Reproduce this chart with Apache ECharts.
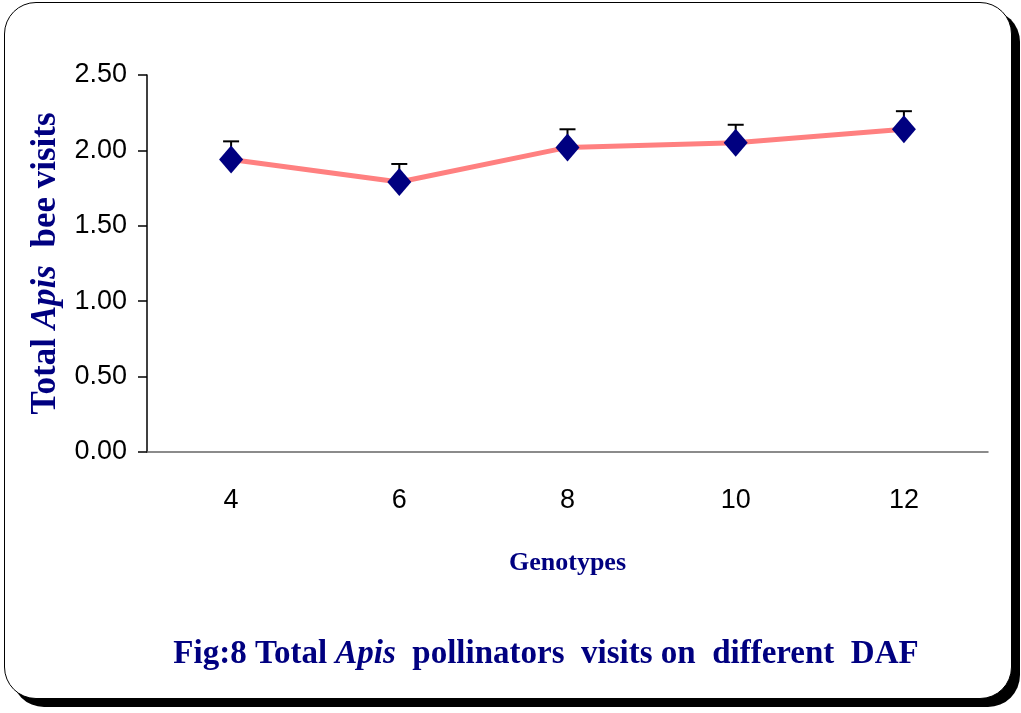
<!DOCTYPE html>
<html>
<head>
<meta charset="utf-8">
<script src="https://cdn.jsdelivr.net/npm/echarts@6/dist/echarts.min.js"></script>
<style>
  html, body { margin: 0; padding: 0; background: #fff; }
  .frame {
    position: absolute; left: 4px; top: 2px;
    width: 1006px; height: 695px;
    border: 1.5px solid #000; border-radius: 32px;
    box-shadow: 8px 8px 0 #000; background: #fff;
  }
  #chart { position: absolute; left: 0; top: 0; width: 1021px; height: 713px; }
</style>
</head>
<body>
<div class="frame"></div>
<div id="chart"></div>
<script>
// DAF (days after flowering) on the x axis
var categories = ["4", "6", "8", "10", "12"];
var visits = [1.94, 1.79, 2.02, 2.05, 2.14];
var errors = [0.12, 0.12, 0.12, 0.12, 0.12];

var chart = echarts.init(document.getElementById("chart"));

// only the upper half of the error bar shows, the marker hides the rest
function renderErrorBar(params, api) {
  var i = api.value(0);
  var top = api.coord([i, api.value(2)]);
  var mid = api.coord([i, api.value(1)]);
  var half = 8;
  var st = { stroke: "#000", lineWidth: 2 };
  return {
    type: "group",
    children: [
      { type: "line", shape: { x1: mid[0], y1: mid[1], x2: top[0], y2: top[1] }, style: st },
      { type: "line", shape: { x1: top[0] - half, y1: top[1], x2: top[0] + half, y2: top[1] }, style: st }
    ]
  };
}

var errData = visits.map(function (v, i) {
  return [i, v, v + errors[i]];
});

chart.setOption({
  animation: false,
  title: {
    left: 541,
    top: 633,
    textAlign: "center",
    text: "{n|Fig:8 Total }{i|Apis}{n|  pollinators  visits on  different  DAF}",
    textStyle: {
      rich: {
        n: { fontFamily: "Liberation Serif", fontWeight: "bold", fontSize: 33, color: "#000080" },
        i: { fontFamily: "Liberation Serif", fontWeight: "bold", fontStyle: "italic", fontSize: 33, color: "#000080" }
      }
    }
  },
  grid: { left: 147, right: 33, top: 75, bottom: 261 },
  xAxis: {
    type: "category",
    data: categories,
    name: "Genotypes",
    nameLocation: "middle",
    nameGap: 98,
    nameTextStyle: { fontFamily: "Liberation Serif", fontWeight: "bold", fontSize: 26, color: "#000080" },
    axisLine: { lineStyle: { color: "#666", width: 1.5 } },
    axisTick: { length: 9, lineStyle: { color: "#444", width: 1.5 } },
    axisLabel: { margin: 35, fontFamily: "Liberation Sans", fontSize: 27, color: "#000" },
    splitLine: { show: false }
  },
  yAxis: {
    type: "value",
    min: 0,
    max: 2.5,
    interval: 0.5,
    name: "{n|Total }{i|Apis}{n|  bee visits}",
    nameLocation: "middle",
    nameGap: 82,
    nameTextStyle: {
      rich: {
        n: { fontFamily: "Liberation Serif", fontWeight: "bold", fontSize: 35, color: "#000080" },
        i: { fontFamily: "Liberation Serif", fontWeight: "bold", fontStyle: "italic", fontSize: 35, color: "#000080" }
      }
    },
    axisLine: { show: true, lineStyle: { color: "#000", width: 1.5 } },
    axisTick: { show: true, length: 9, lineStyle: { color: "#000", width: 1.5 } },
    axisLabel: {
      margin: 20,
      fontFamily: "Liberation Sans",
      fontSize: 27,
      color: "#000",
      formatter: function (v) { return v.toFixed(2); }
    },
    splitLine: { show: false }
  },
  series: [
    {
      type: "custom",
      renderItem: renderErrorBar,
      data: errData,
      encode: { x: 0, y: [1, 2] },
      z: 1
    },
    {
      type: "line",
      data: visits,
      symbol: "diamond",
      symbolSize: [24, 28],
      lineStyle: { color: "#FF8080", width: 5 },
      itemStyle: { color: "#000080" },
      z: 3
    }
  ]
});
</script>
</body>
</html>
